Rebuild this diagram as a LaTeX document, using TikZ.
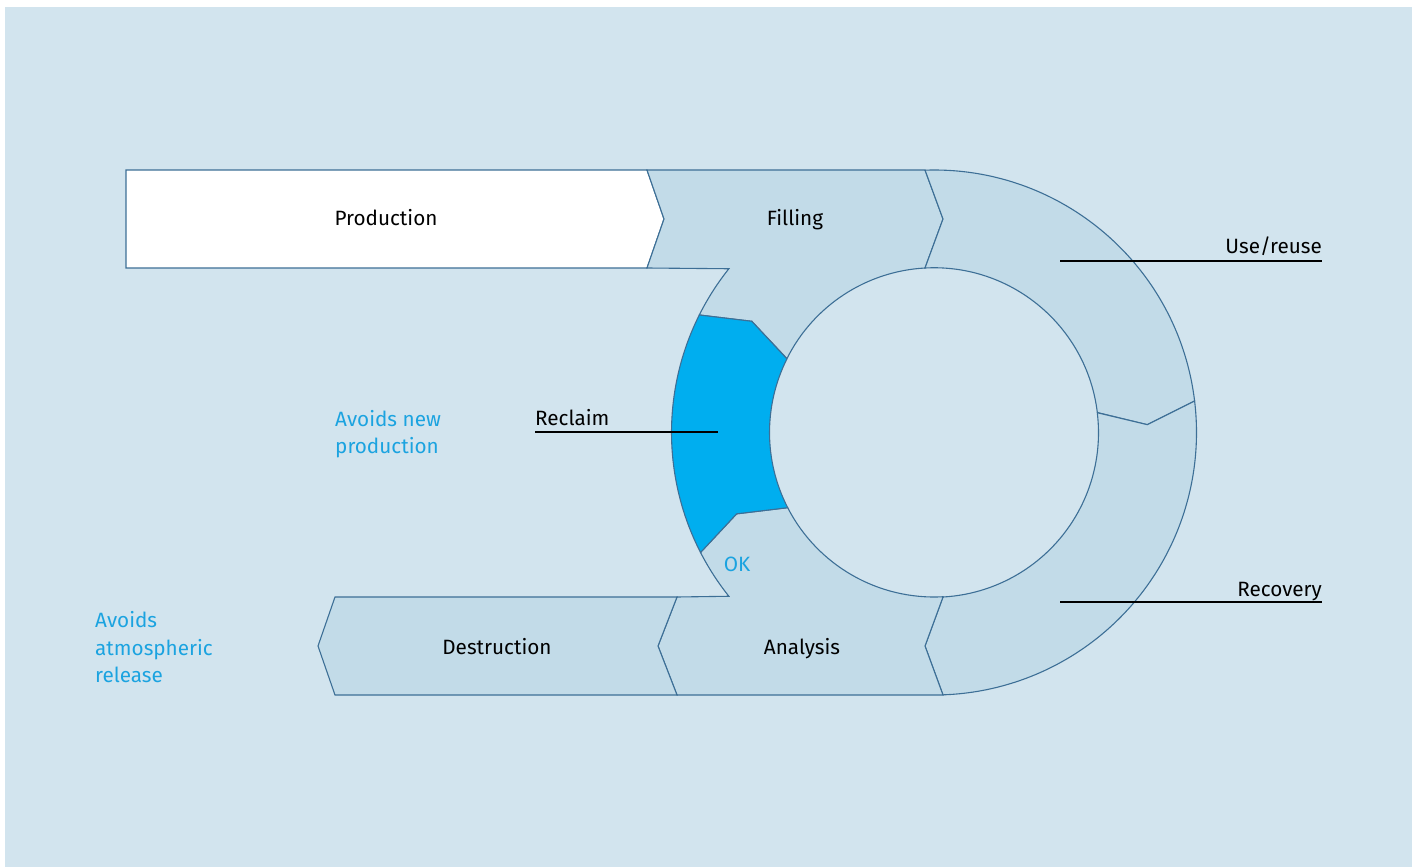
\documentclass[tikz,border=0pt]{standalone}
\usepackage{fontspec}
\setmainfont{Fira Sans}
\usetikzlibrary{calc}
\definecolor{bgblue}{HTML}{D2E4EE}
\definecolor{segfill}{HTML}{C2DBE8}
\definecolor{segline}{HTML}{3D6F96}
\definecolor{cyanfill}{HTML}{00AEEF}
\definecolor{bluetext}{HTML}{1BA3E0}
\begin{document}
\begin{tikzpicture}[x=1pt,y=1pt,yscale=-1,
  seg/.style={fill=segfill,draw=segline,line width=1.1pt,line join=miter},
  lbl/.style={font=\fontsize{20.7}{27.5}\selectfont,text=black,inner sep=0pt},
  bluelbl/.style={lbl,text=bluetext,align=left},
  leader/.style={draw=black,line width=1.3pt}]
\useasboundingbox (0,0) rectangle (1416,867);
\fill[bgblue] (5,7) rectangle (1412,867);
\begin{scope}[shift={(934,432.5)}]
  % Production
  \path[seg,fill=white] (-808,-262.5) -- (-287,-262.5) -- (-270,-213.5) -- (-287,-164.5) -- (-808,-164.5) -- cycle;
  % Filling
  \path[seg] (-287,-262.5) -- (-9,-262.5) -- (9,-213.5) -- (-9,-164.5)
     arc[start angle=-93.14, end angle=-153.4, radius=164.5]
     -- (-148.6:213.5) -- (-153.4:262.5)
     arc[start angle=-153.4, end angle=-141.4, radius=262.5]
     -- (-287,-164.5) -- (-270,-213.5) -- cycle;
  % Use/reuse
  \path[seg] (-9,-262.5) -- (9,-213.5) -- (-9,-164.5)
     arc[start angle=-93.14, end angle=-6.9, radius=164.5]
     -- (-2.1:213.5) -- (-6.9:262.5)
     arc[start angle=-6.9, end angle=-91.96, radius=262.5] -- cycle;
  % Recovery
  \path[seg] (-6.9:164.5) -- (-2.1:213.5) -- (-6.9:262.5)
     arc[start angle=-6.9, end angle=88.04, radius=262.5]
     -- (-9,213.5) -- (9,164.5)
     arc[start angle=86.86, end angle=-6.9, radius=164.5] -- cycle;
  % Analysis
  \path[seg] (9,164.5) -- (-9,213.5) -- (9,262.5) -- (-257,262.5) -- (-276,213.5) -- (-257,164.5)
     -- (141.4:262.5)
     arc[start angle=141.4, end angle=152.8, radius=262.5]
     -- (157.6:213.5) -- (152.8:164.5)
     arc[start angle=152.8, end angle=86.86, radius=164.5] -- cycle;
  % Reclaim
  \path[seg,fill=cyanfill] (152.8:164.5) -- (157.6:213.5) -- (152.8:262.5)
     arc[start angle=152.8, end angle=206.6, radius=262.5]
     -- (211.4:213.5) -- (206.6:164.5)
     arc[start angle=206.6, end angle=152.8, radius=164.5] -- cycle;
  % Destruction
  \path[seg] (-599,164.5) -- (-257,164.5) -- (-276,213.5) -- (-257,262.5) -- (-599,262.5) -- (-616,213.5) -- cycle;
\end{scope}
% labels
\node[lbl,anchor=base] (production) at (386,225) {Production};
\node[lbl,anchor=base] (filling) at (795,225) {Filling};
\node[lbl,anchor=base] (analysis) at (802,654) {Analysis};
\node[lbl,anchor=base] (destruction) at (497,654) {Destruction};
\node[lbl,anchor=base east] (use) at (1322,253) {Use/reuse};
\node[lbl,anchor=base east] (recovery) at (1322,596) {Recovery};
\node[lbl,anchor=base west] (reclaim) at (535,425) {Reclaim};
\node[lbl,text=bluetext,anchor=base] (ok) at (737,571) {OK};
\node[bluelbl,anchor=west] (avoidnew) at (335,434) {Avoids new\\production};
\node[bluelbl,anchor=west] (avoidatm) at (95,647.5) {Avoids\\atmospheric\\release};
% leader lines
\coordinate (useL) at (1060,261);
\coordinate (useR) at (1322,261);
\coordinate (recL) at (1060,602);
\coordinate (recR) at (1322,602);
\coordinate (recmL) at (535,432);
\coordinate (recmR) at (718,432);
\draw[leader] (useL) -- (useR);
\draw[leader] (recL) -- (recR);
\draw[leader] (recmL) -- (recmR);
\end{tikzpicture}
\end{document}
